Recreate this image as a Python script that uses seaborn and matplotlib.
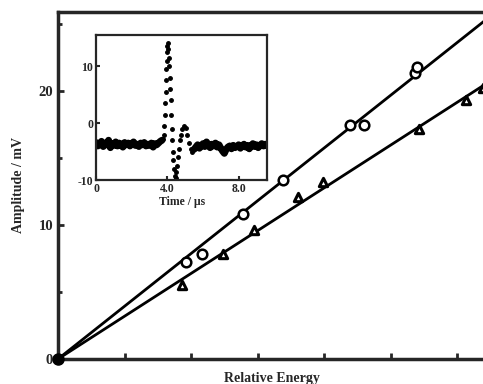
import numpy as np
import pandas as pd
import seaborn as sns
import matplotlib.pyplot as plt

sns.set_style("ticks")
plt.rcParams["font.family"] = ["Liberation Serif", "DejaVu Serif"]
plt.rcParams["font.weight"] = "bold"
plt.rcParams["axes.unicode_minus"] = False

# main plot data (relative energy vs amplitude)
energy_circ = [1.92, 2.16, 2.78, 3.38, 4.38, 4.60, 5.36, 5.39]
amp_circ = [7.24, 7.84, 10.82, 13.36, 17.46, 17.46, 21.34, 21.81]
energy_tri = [1.87, 2.48, 2.95, 3.61, 3.98, 5.42, 6.13, 6.39]
amp_tri = [5.52, 7.84, 9.63, 12.09, 13.23, 17.16, 19.33, 20.22]

# inset waveform
base_t = [0.0, 0.1, 0.2, 0.3, 0.4, 0.5, 0.6, 0.7, 0.8, 0.9, 1.0, 1.1, 1.2, 1.3,
          1.4, 1.5, 1.6, 1.7, 1.8, 1.9, 2.0, 2.1, 2.2, 2.3, 2.4, 2.5, 2.6, 2.7,
          2.8, 2.9, 3.0, 3.1, 3.2, 3.3, 3.4, 3.5, 3.6, 3.7]
base_v = [-3.4, -4.0, -3.6, -3.2, -4.1, -3.5, -3.8, -3.0, -4.3, -3.6, -3.9, -3.3,
          -4.0, -3.5, -3.7, -4.2, -3.4, -3.8, -3.5, -4.0, -3.6, -3.3, -3.9, -3.7,
          -4.1, -3.5, -3.8, -3.4, -4.0, -3.7, -3.9, -3.5, -4.2, -3.6, -3.8, -3.5,
          -3.2, -3.0]
pulse_t = [3.75, 3.80, 3.83, 3.86, 3.88, 3.90, 3.92, 3.94, 3.96, 3.98, 4.00, 4.02,
           4.05, 4.08, 4.10, 4.13, 4.16, 4.19, 4.22, 4.25, 4.28, 4.31, 4.34, 4.38,
           4.42, 4.46, 4.50, 4.55, 4.60, 4.65, 4.70, 4.78, 4.85, 4.95, 5.02, 5.10,
           5.20, 5.30, 5.40]
pulse_v = [-2.8, -2.0, -0.5, 1.5, 3.5, 5.5, 7.5, 9.5, 11.0, 12.5, 13.5, 14.0,
           13.0, 11.5, 10.0, 8.0, 6.0, 4.0, 1.5, -1.0, -3.0, -5.0, -6.5, -8.0,
           -9.2, -9.6, -8.5, -7.5, -6.0, -4.5, -3.0, -2.0, -1.0, -0.5, -0.8, -2.0,
           -3.5, -4.5, -5.0]
post_t = [5.5, 5.6, 5.7, 5.8, 5.9, 6.0, 6.1, 6.2, 6.3, 6.4, 6.5, 6.6, 6.7, 6.8,
          6.9, 7.0, 7.1, 7.2, 7.3, 7.4, 7.5, 7.6, 7.7, 7.8, 7.9, 8.0, 8.1, 8.2,
          8.3, 8.4, 8.5, 8.6, 8.7, 8.8, 8.9, 9.0, 9.1, 9.2, 9.3, 9.4, 9.5, 9.6]
post_v = [-4.6, -4.2, -3.8, -4.4, -4.0, -3.6, -4.1, -3.3, -3.9, -4.3, -3.7, -4.0,
          -3.5, -4.2, -3.8, -4.4, -4.9, -5.3, -4.6, -4.2, -4.0, -4.5, -3.9, -4.3,
          -4.1, -3.8, -4.4, -4.0, -3.7, -4.2, -3.9, -4.5, -4.0, -3.6, -4.1, -3.8,
          -4.3, -3.9, -3.6, -4.0, -3.7, -3.9]

df_c = pd.DataFrame({"energy": energy_circ, "amp": amp_circ})
df_t = pd.DataFrame({"energy": energy_tri, "amp": amp_tri})

fig = plt.figure(figsize=(4.83, 3.84), dpi=100)
ax = fig.add_axes([0.120, 0.065, 0.885, 0.904])

xmax = 6.42
# fits through the origin
for d in (df_c, df_t):
    k = (d.energy * d.amp).sum() / (d.energy ** 2).sum()
    fit = pd.DataFrame({"energy": [0, xmax], "amp": [0, k * xmax]})
    sns.lineplot(data=fit, x="energy", y="amp", color="black", lw=2, ax=ax)

sns.scatterplot(data=df_c, x="energy", y="amp", marker="o", s=48,
                facecolor="white", edgecolor="black", linewidth=1.8, ax=ax, zorder=3)
sns.scatterplot(data=df_t, x="energy", y="amp", marker="^", s=36,
                facecolor="white", edgecolor="black", linewidth=2.2, ax=ax, zorder=3)
ax.plot([0], [0], "o", color="black", ms=8, clip_on=False, zorder=4)

ax.set_xlim(0, xmax)
ax.set_ylim(0, 25.9)
ax.set_xticks([0, 1, 2, 3, 4, 5, 6])
ax.set_xticklabels([])
ax.set_yticks([0, 10, 20])
ax.set_yticks([5, 15, 25], minor=True)
ax.tick_params(direction="in", width=2, length=4, labelsize=10.5)
ax.tick_params(which="minor", direction="in", width=2, length=3)
for s in ["left", "bottom", "top"]:
    ax.spines[s].set_linewidth(2.5)
ax.spines["right"].set_visible(False)
ax.set_xlabel("Relative Energy", fontsize=10, fontweight="bold", labelpad=6)
ax.set_ylabel("Amplitude / mV", fontsize=10, fontweight="bold", labelpad=10)

# inset
ins = fig.add_axes([0.199, 0.531, 0.354, 0.378])
ins.plot(base_t, base_v, color="black", lw=5)
ins.plot(post_t, post_v, color="black", lw=5)
ins.plot(pulse_t, pulse_v, ".", color="black", ms=5)
ins.set_xlim(0, 9.6)
ins.set_ylim(-10, 15.5)
ins.set_xticks([0, 4, 8])
ins.set_xticklabels(["0", "4.0", "8.0"])
ins.set_yticks([-10, 0, 10])
ins.tick_params(direction="in", width=1.5, length=3, labelsize=8.5, pad=2)
for s in ins.spines.values():
    s.set_linewidth(1.6)
ins.set_xlabel("Time / \u03bcs", fontsize=8.5, fontweight="bold", labelpad=1)

fig.savefig("out.png", dpi=100)
